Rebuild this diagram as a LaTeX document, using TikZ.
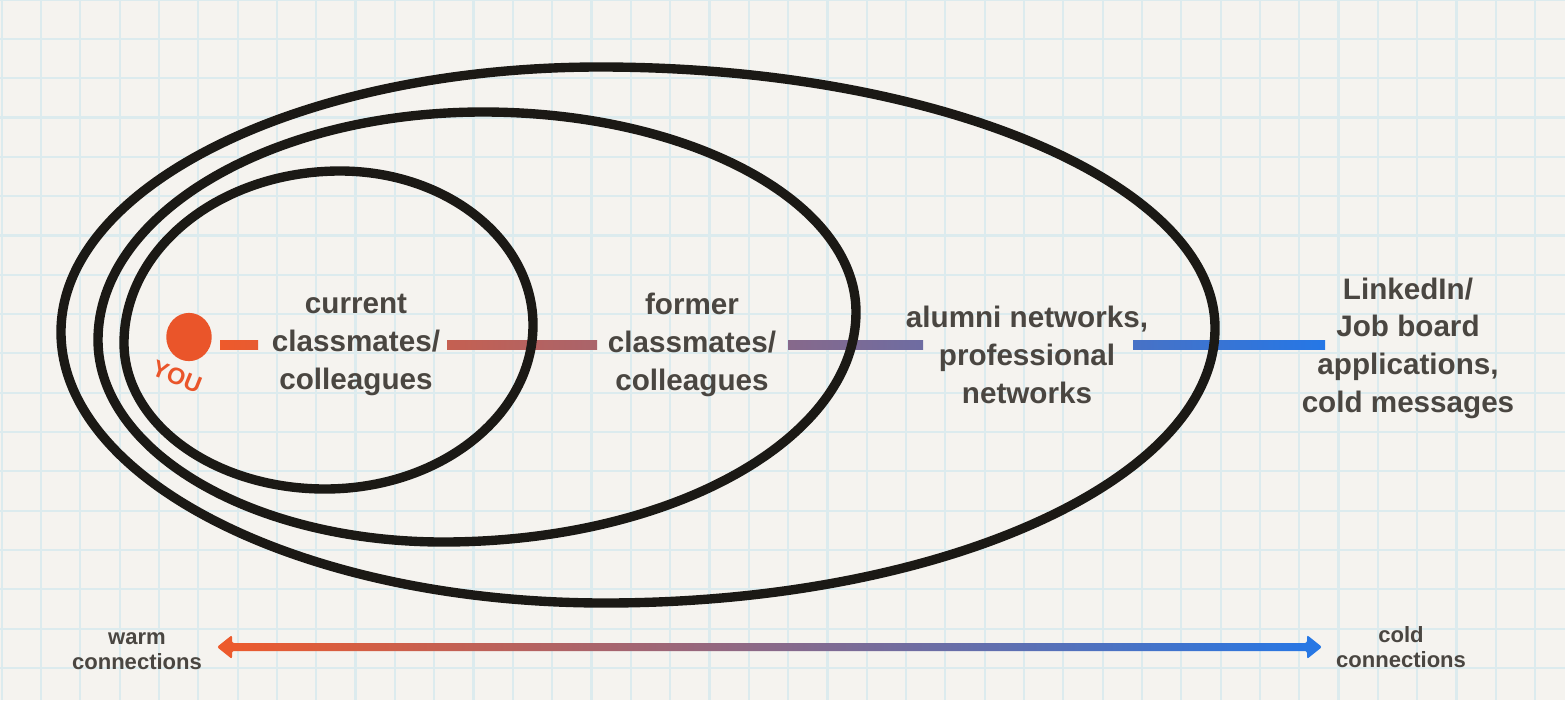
\documentclass[tikz,border=0pt]{standalone}
\usepackage{fontspec}
\setmainfont{Liberation Sans}
\usetikzlibrary{calc, shapes.geometric}

\definecolor{paper}{HTML}{F5F3EF}
\definecolor{gridc}{HTML}{DCEBEE}
\definecolor{ink}{HTML}{1B1915}
\definecolor{txt}{HTML}{4A4641}
\definecolor{warm}{HTML}{EE5A2B}
\definecolor{mauve}{HTML}{96709F}
\definecolor{cold}{HTML}{2577E6}
\definecolor{youred}{HTML}{EA552A}

\tikzset{
  ring/.style={draw=ink, line width=6.8pt},
  gridline/.style={draw=gridc, line width=1.6pt},
  warmcold/.style={left color=warm, middle color=mauve, right color=cold},
  lbl/.style={text=txt, align=center, font=\fontsize{21.5}{27.3}\selectfont\bfseries},
  endlbl/.style={text=txt, align=center, font=\fontsize{16}{18}\selectfont\bfseries},
}

% closed loop through the left, top, right and bottom points of a ring
\newcommand{\ringloop}[1]{%
  \draw[ring] (#1L)
    .. controls ($(#1L)!.5523!(#1L|-#1T)$) and ($(#1T)!.5523!(#1L|-#1T)$) .. (#1T)
    .. controls ($(#1T)!.5523!(#1R|-#1T)$) and ($(#1R)!.5523!(#1R|-#1T)$) .. (#1R)
    .. controls ($(#1R)!.5523!(#1R|-#1B)$) and ($(#1B)!.5523!(#1R|-#1B)$) .. (#1B)
    .. controls ($(#1B)!.5523!(#1L|-#1B)$) and ($(#1L)!.5523!(#1L|-#1B)$) .. cycle;}

\begin{document}
\begin{tikzpicture}[x=0.0255cm, y=-0.0255cm]
    % paper and grid
    \fill[paper] (0,0) rectangle (1565,700);
    \useasboundingbox (0,0) rectangle (1565,700);
    \foreach \i in {0,...,39}
        \draw[gridline] ({1.7+39.32*\i},0) -- ({1.7+39.32*\i},700);
    \foreach \j in {0,...,17}
        \draw[gridline] (0,{-0.5+39.32*\j}) -- (1565,{-0.5+39.32*\j});

    % line from you outwards
    \coordinate (c0) at (220,345);
    \coordinate (c1) at (258,345);
    \coordinate (c2) at (447,345);
    \coordinate (c3) at (597,345);
    \coordinate (c4) at (788,345);
    \coordinate (c5) at (923,345);
    \coordinate (c6) at (1133,345);
    \coordinate (c7) at (1325,345);
    \begin{scope}
        \clip ([yshift=3.6pt]c0) rectangle ([yshift=-3.6pt]c1)
              ([yshift=3.6pt]c2) rectangle ([yshift=-3.6pt]c3)
              ([yshift=3.6pt]c4) rectangle ([yshift=-3.6pt]c5)
              ([yshift=3.6pt]c6) rectangle ([yshift=-3.6pt]c7);
        \shade[warmcold] ([yshift=4pt]c0) rectangle ([yshift=-4pt]c7);
    \end{scope}

    % the three rings
    \coordinate (inL) at (124,343);
    \coordinate (inT) at (340,171);
    \coordinate (inR) at (533,325);
    \coordinate (inB) at (325,489);
    \coordinate (midL) at (98,340);
    \coordinate (midT) at (483,112);
    \coordinate (midR) at (856,312);
    \coordinate (midB) at (443,542);
    \coordinate (outL) at (61,332);
    \coordinate (outT) at (600,67);
    \coordinate (outR) at (1215,328);
    \coordinate (outB) at (605,603);
    \ringloop{in}
    \ringloop{mid}
    \ringloop{out}

    % you
    \node[ellipse, fill=youred, inner sep=0pt, minimum width=33pt, minimum height=35pt] (you) at (189,337) {};
    \node[text=youred, rotate=-22, font=\fontsize{17}{17}\selectfont\bfseries] (youtxt) at (177,377) {YOU};

    % labels
    \node[lbl] (cur) at (356,345) {current\\classmates/\\colleagues};
    \node[lbl] (form) at (692,345) {former\\classmates/\\colleagues};
    \node[lbl] (alum) at (1027,355) {alumni networks,\\professional\\networks};
    \node[lbl] (lnk) at (1408,348) {LinkedIn/\\Job board\\applications,\\cold messages};

    % warm to cold scale
    \node[endlbl] (warmlbl) at (137,651) {warm\\connections};
    \node[endlbl] (coldlbl) at (1401,647) {cold\\connections};
    \coordinate (aw) at (217,647);
    \coordinate (ac) at (1322,647);
    \shade[warmcold, rounded corners=1.5pt]
        (aw) -- ++(15,-12) -- ++(0,8) -- ($(ac)+(-15,-4)$) -- ++(0,-8) -- (ac)
        -- ++(-15,12) -- ++(0,-8) -- ($(aw)+(15,4)$) -- ++(0,8) -- cycle;
\end{tikzpicture}
\end{document}
